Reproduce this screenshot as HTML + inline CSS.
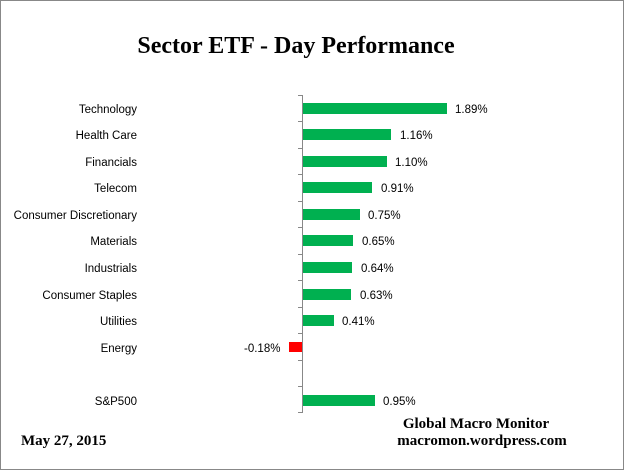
<!DOCTYPE html>
<html><head><style>
body{margin:0;background:#fff}
svg{display:block}
text{font-family:"Liberation Sans",sans-serif;font-size:11.5px;fill:#000}
.s{font-family:"Liberation Serif",serif;font-weight:bold}
</style></head><body>
<svg width="625" height="471" xmlns="http://www.w3.org/2000/svg">
<rect x="0.5" y="0.5" width="623" height="469" fill="#fff" stroke="#888"/>
<text class="s" x="296" y="53" text-anchor="middle" style="font-size:24px">Sector ETF - Day  Performance</text>
<line x1="302.5" y1="95" x2="302.5" y2="413" stroke="#888"/>
<g stroke="#888">
<line x1="298" y1="95.5" x2="302" y2="95.5"/><line x1="298" y1="121.5" x2="302" y2="121.5"/>
<line x1="298" y1="148.5" x2="302" y2="148.5"/><line x1="298" y1="174.5" x2="302" y2="174.5"/>
<line x1="298" y1="201.5" x2="302" y2="201.5"/><line x1="298" y1="227.5" x2="302" y2="227.5"/>
<line x1="298" y1="254.5" x2="302" y2="254.5"/><line x1="298" y1="280.5" x2="302" y2="280.5"/>
<line x1="298" y1="307.5" x2="302" y2="307.5"/><line x1="298" y1="333.5" x2="302" y2="333.5"/>
<line x1="298" y1="360.5" x2="302" y2="360.5"/><line x1="298" y1="386.5" x2="302" y2="386.5"/>
<line x1="298" y1="412.5" x2="302" y2="412.5"/>
</g>
<g fill="#00b050">
<rect x="303" y="103" width="144" height="11"/>
<rect x="303" y="129" width="88" height="11"/>
<rect x="303" y="156" width="84" height="11"/>
<rect x="303" y="182" width="69" height="11"/>
<rect x="303" y="209" width="57" height="11"/>
<rect x="303" y="235" width="50" height="11"/>
<rect x="303" y="262" width="49" height="11"/>
<rect x="303" y="289" width="48" height="11"/>
<rect x="303" y="315" width="31" height="11"/>
<rect x="303" y="395" width="72" height="11"/>
</g>
<rect x="289" y="342" width="13" height="10" fill="#ff0000"/>
<g text-anchor="end">
<text x="137" y="113">Technology</text>
<text x="137" y="139">Health Care</text>
<text x="137" y="166">Financials</text>
<text x="137" y="192">Telecom</text>
<text x="137" y="219">Consumer Discretionary</text>
<text x="137" y="245">Materials</text>
<text x="137" y="272">Industrials</text>
<text x="137" y="299">Consumer Staples</text>
<text x="137" y="325">Utilities</text>
<text x="137" y="352">Energy</text>
<text x="137" y="405">S&amp;P500</text>
</g>
<text x="455" y="113">1.89%</text>
<text x="400" y="139">1.16%</text>
<text x="395" y="166">1.10%</text>
<text x="381" y="192">0.91%</text>
<text x="368" y="219">0.75%</text>
<text x="362" y="245">0.65%</text>
<text x="361" y="272">0.64%</text>
<text x="360" y="299">0.63%</text>
<text x="342" y="325">0.41%</text>
<text x="244" y="352">-0.18%</text>
<text x="383" y="405">0.95%</text>
<text class="s" x="476" y="428" text-anchor="middle" style="font-size:15px">Global Macro Monitor</text>
<text class="s" x="482" y="445" text-anchor="middle" style="font-size:15px">macromon.wordpress.com</text>
<text class="s" x="21" y="445" style="font-size:15px">May 27, 2015</text>
</svg>
</body></html>
